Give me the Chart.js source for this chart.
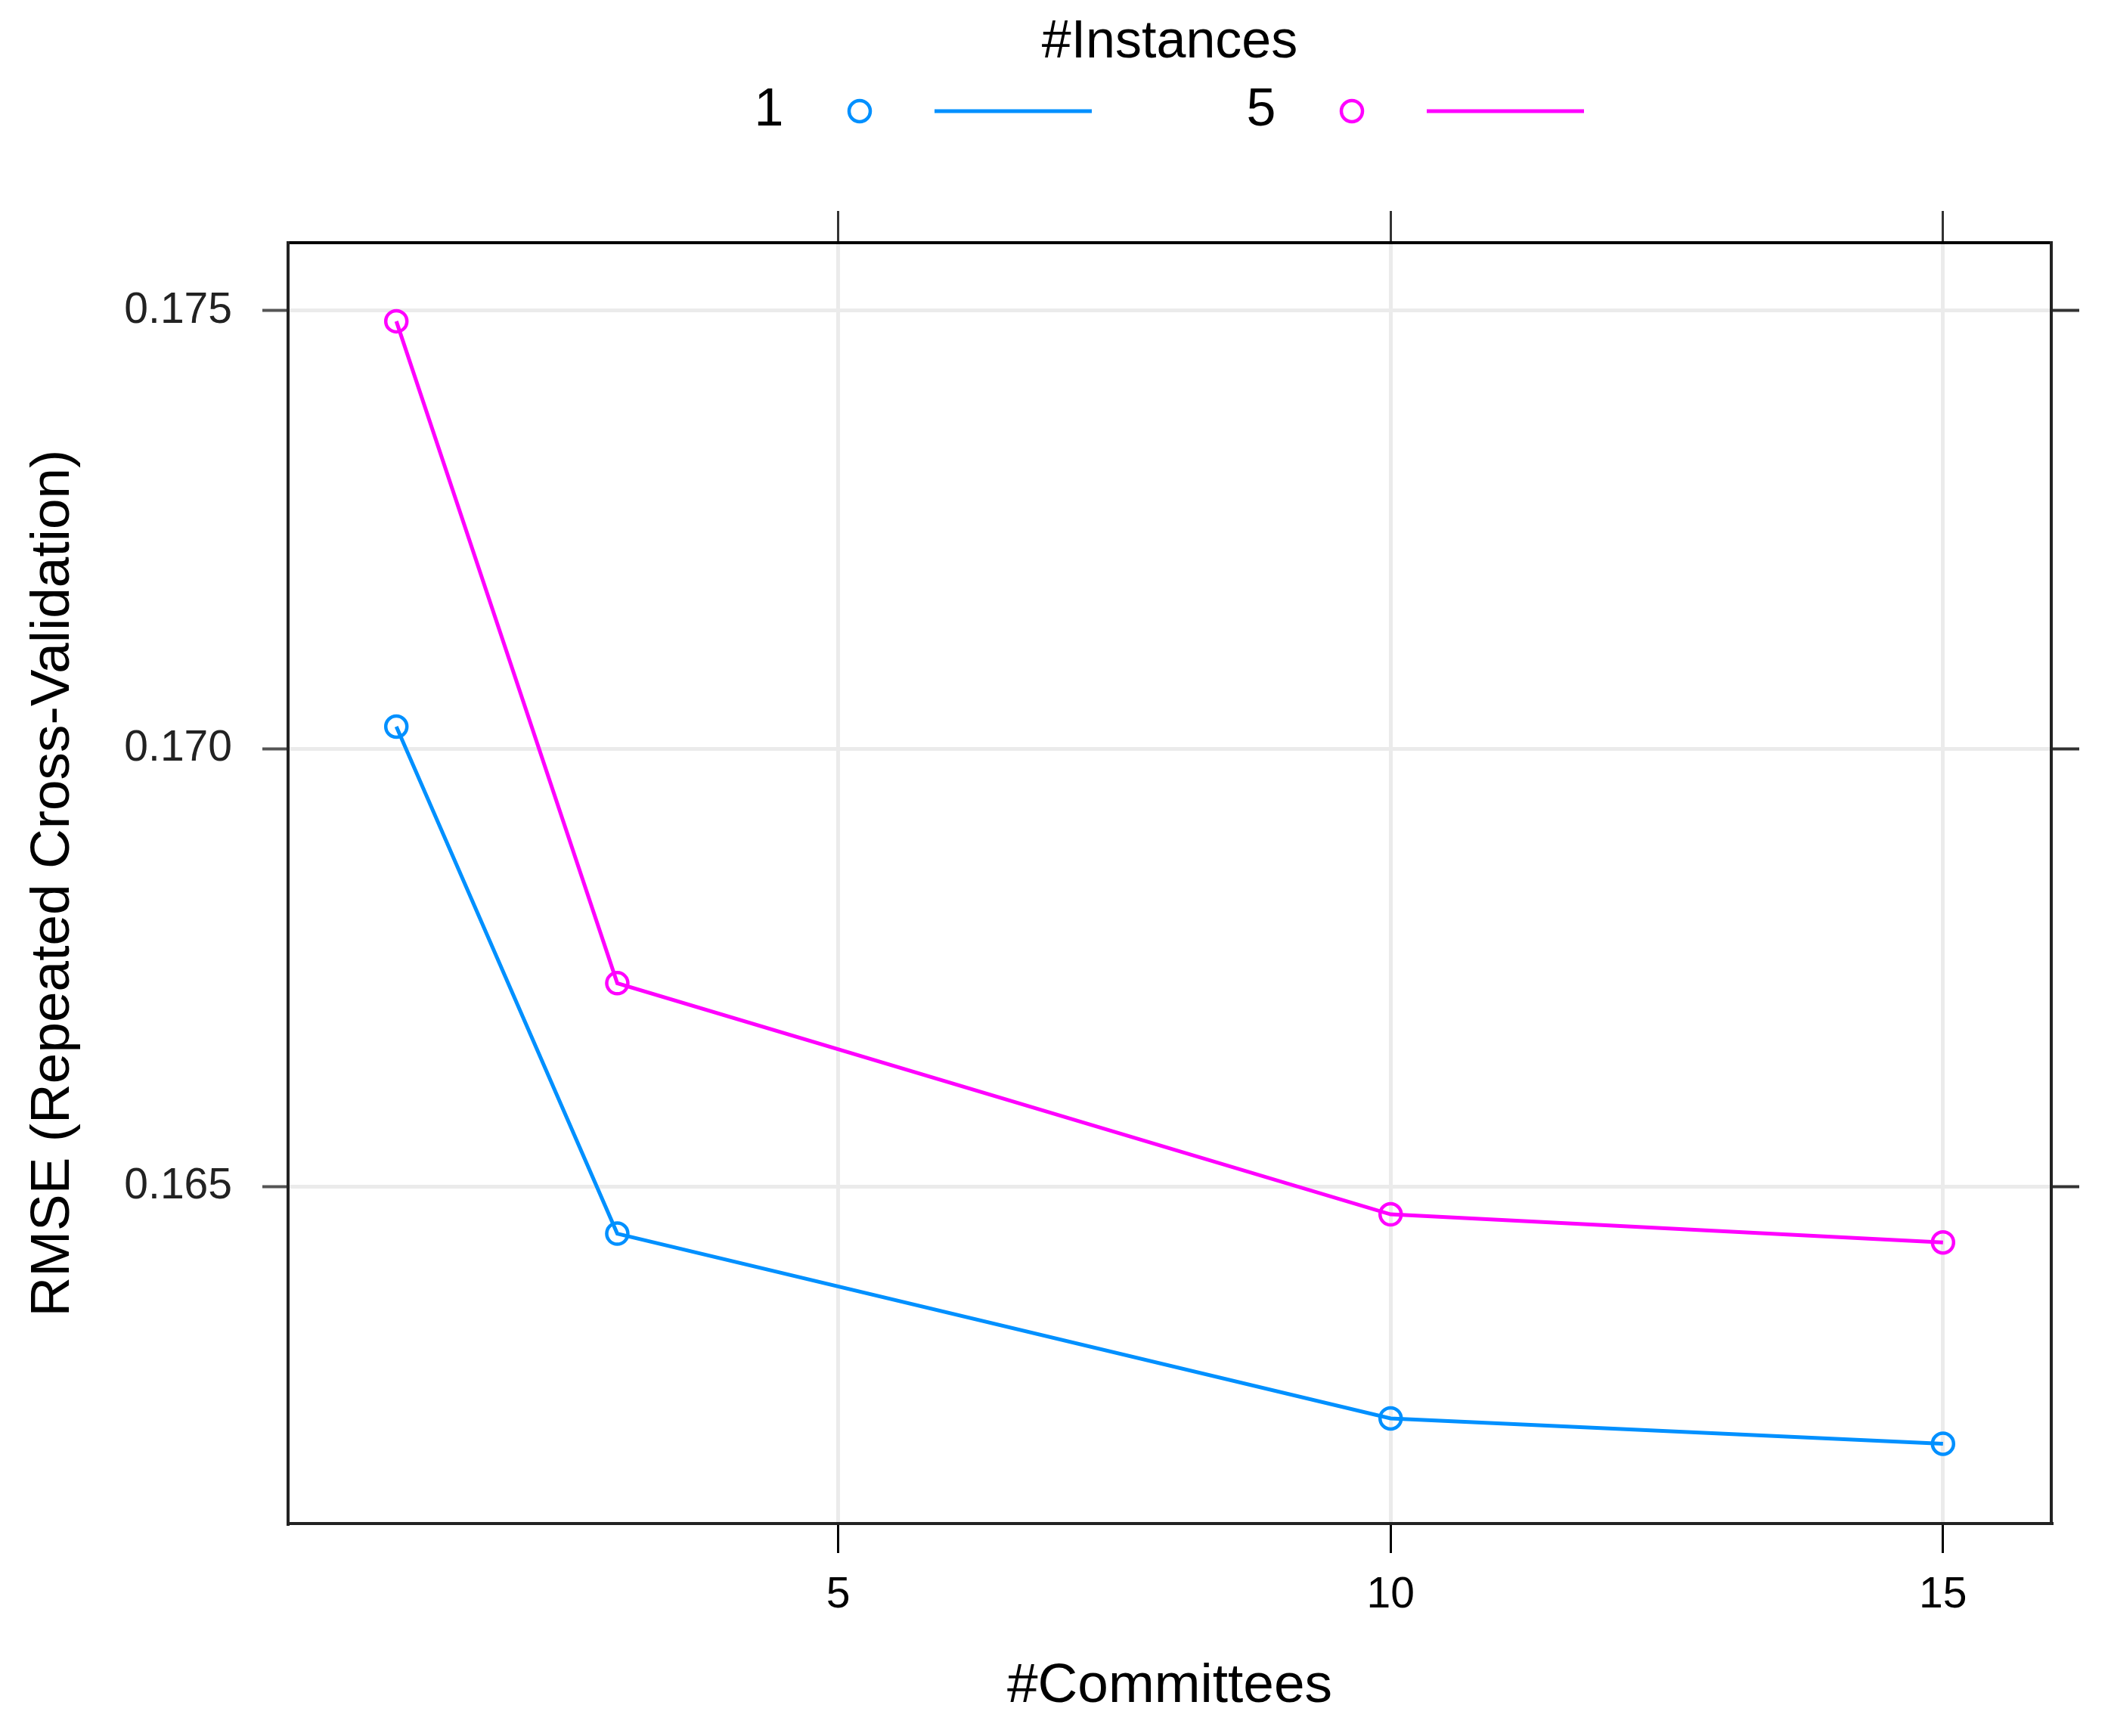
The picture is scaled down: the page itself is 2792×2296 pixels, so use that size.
<!DOCTYPE html>
<html lang="en">
<head>
    <meta charset="UTF-8">
    <title>RMSE vs Committees</title>
    <script src="https://cdnjs.cloudflare.com/ajax/libs/Chart.js/4.4.1/chart.umd.min.js"></script>
    <style>
        body {
            margin: 0;
            background: #ffffff;
        }
        #chart {
            display: block;
        }
    </style>
</head>
<body>
    <canvas id="chart" width="2792" height="2296"></canvas>

    <script>
        // values
        const committees = [1, 3, 10, 15];
        const instances1 = [0.17025, 0.16446, 0.16235, 0.16206];
        const instances5 = [0.17488, 0.16732, 0.16468, 0.16436];

        const seriesNames = ['1', '5'];
        const seriesColors = ['#0090ff', '#ff00ff'];

        const xTicks = [5, 10, 15];
        const yTicks = [0.165, 0.170, 0.175];

        const FONT = "'Liberation Sans', Arial, sans-serif";

        function toPoints(values) {
            return committees.map((c, i) => ({ x: c, y: values[i] }));
        }

        function makeDataset(label, values, color) {
            return {
                label: label,
                data: toPoints(values),
                borderColor: color,
                borderWidth: 5,
                pointStyle: 'circle',
                pointRadius: 14,
                pointBorderWidth: 4.5,
                pointBorderColor: color,
                pointBackgroundColor: 'rgba(0,0,0,0)',
                tension: 0,
                fill: false,
                xAxisID: 'x',
                yAxisID: 'y'
            };
        }

        // legend in lattice style: "1  o  ----   5  o  ----"
        const latticeLegend = {
            id: 'latticeLegend',
            afterDraw(chart) {
                const ctx = chart.ctx;
                ctx.save();
                ctx.fillStyle = '#000';
                ctx.textAlign = 'center';
                ctx.textBaseline = 'middle';
                ctx.font = '70px ' + FONT;
                ctx.fillText('#Instances', 1547, 57);

                const rowY = 147;
                const starts = [1017, 1668];
                seriesNames.forEach((name, i) => {
                    const x0 = starts[i];
                    ctx.fillStyle = '#000';
                    ctx.font = '70px ' + FONT;
                    ctx.fillText(name, x0, rowY);

                    ctx.strokeStyle = seriesColors[i];
                    ctx.lineWidth = 4.5;
                    ctx.beginPath();
                    ctx.arc(x0 + 120, rowY, 14, 0, Math.PI * 2);
                    ctx.stroke();

                    ctx.lineWidth = 5;
                    ctx.beginPath();
                    ctx.moveTo(x0 + 219, rowY);
                    ctx.lineTo(x0 + 427, rowY);
                    ctx.stroke();
                });
                ctx.restore();
            }
        };

        const gridColor = '#ebebeb';
        const tickColor = '#333333';

        const ctx = document.getElementById('chart').getContext('2d');
        new Chart(ctx, {
            type: 'line',
            data: {
                datasets: [
                    makeDataset(seriesNames[0], instances1, seriesColors[0]),
                    makeDataset(seriesNames[1], instances5, seriesColors[1])
                ]
            },
            options: {
                responsive: false,
                animation: false,
                devicePixelRatio: 1,
                layout: { padding: 0 },
                plugins: {
                    legend: { display: false },
                    tooltip: { enabled: false }
                },
                scales: {
                    x: {
                        type: 'linear',
                        position: 'bottom',
                        min: 0.02,
                        max: 15.98,
                        afterBuildTicks: s => { s.ticks = xTicks.map(v => ({ value: v })); },
                        afterFit: s => { s.height = 281; },
                        grid: {
                            color: gridColor,
                            lineWidth: 5,
                            tickColor: '#000',
                            tickLength: 39,
                            tickWidth: 3
                        },
                        border: { color: '#222', width: 4 },
                        ticks: {
                            color: '#000',
                            padding: 22,
                            maxRotation: 0,
                            font: { family: FONT, size: 57 }
                        },
                        title: {
                            display: true,
                            text: '#Committees',
                            color: '#000',
                            padding: { top: 0, bottom: 21 },
                            font: { family: FONT, size: 73, lineHeight: 1.2 }
                        }
                    },
                    xTop: {
                        type: 'linear',
                        position: 'top',
                        min: 0.02,
                        max: 15.98,
                        afterBuildTicks: s => { s.ticks = xTicks.map(v => ({ value: v })); },
                        afterFit: s => { s.height = 321; },
                        grid: {
                            drawOnChartArea: false,
                            tickColor: tickColor,
                            tickLength: 42,
                            tickWidth: 3
                        },
                        border: { color: '#000', width: 4 },
                        ticks: { display: false }
                    },
                    y: {
                        type: 'linear',
                        position: 'left',
                        min: 0.161149,
                        max: 0.175777,
                        afterBuildTicks: s => { s.ticks = yTicks.map(v => ({ value: v })); },
                        afterFit: s => { s.width = 381; },
                        grid: {
                            color: gridColor,
                            lineWidth: 5,
                            tickColor: '#555',
                            tickLength: 34,
                            tickWidth: 4
                        },
                        border: { color: '#222', width: 4 },
                        ticks: {
                            color: '#222',
                            padding: 40,
                            font: { family: FONT, size: 57 },
                            callback: v => v.toFixed(3)
                        },
                        title: {
                            display: true,
                            text: 'RMSE (Repeated Cross-Validation)',
                            color: '#000',
                            padding: { top: 27, bottom: 0 },
                            font: { family: FONT, size: 73, lineHeight: 1.2 }
                        }
                    },
                    yRight: {
                        type: 'linear',
                        position: 'right',
                        min: 0.161149,
                        max: 0.175777,
                        afterBuildTicks: s => { s.ticks = yTicks.map(v => ({ value: v })); },
                        afterFit: s => { s.width = 79; },
                        grid: {
                            drawOnChartArea: false,
                            tickColor: tickColor,
                            tickLength: 37,
                            tickWidth: 4
                        },
                        border: { color: '#222', width: 4 },
                        ticks: { display: false }
                    }
                }
            },
            plugins: [latticeLegend]
        });
    </script>
</body>
</html>
